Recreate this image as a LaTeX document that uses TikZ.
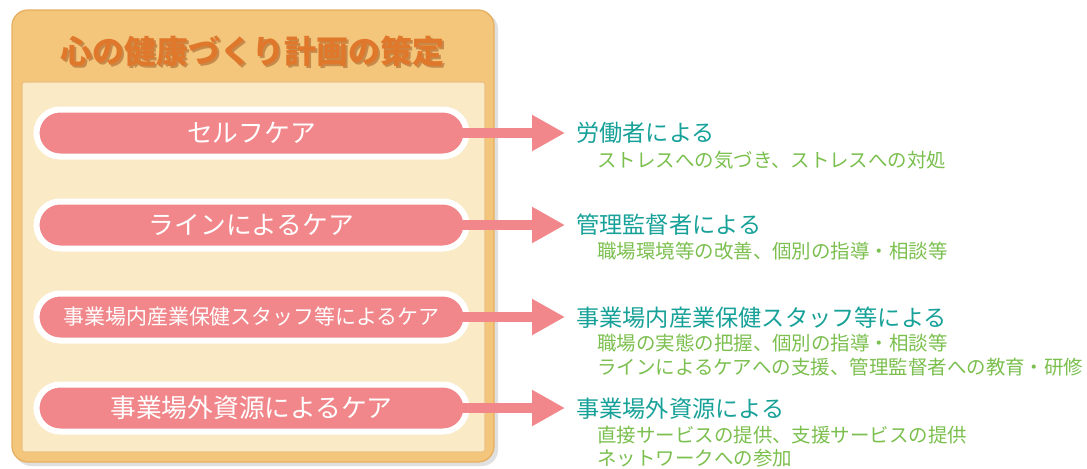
\documentclass[tikz,border=0pt]{standalone}
\usepackage{fontspec}
\setmainfont{Noto Sans CJK JP}
\usetikzlibrary{arrows.meta,shapes.misc}
\definecolor{pinkc}{HTML}{F1878B}
\definecolor{panelc}{HTML}{F3C67C}
\definecolor{panelb}{HTML}{E6B060}
\definecolor{creamc}{HTML}{FAEAC6}
\definecolor{titlec}{HTML}{E0782C}
\definecolor{titles}{HTML}{A8622A}
\definecolor{headc}{HTML}{17A198}
\definecolor{subc}{HTML}{7BBF4E}
\begin{document}
\begin{tikzpicture}[x=0.75pt,y=-0.75pt,
  pill/.style={rounded rectangle, fill=pinkc, draw=white, line width=4.5pt,
    minimum width=322.5pt, minimum height=35.25pt, inner sep=0pt,
    text=white, font=\fontsize{19.3}{22}\selectfont},
  head/.style={anchor=west, inner sep=0pt, text=headc, font=\fontsize{17.4}{20}\selectfont},
  sub/.style={anchor=west, inner sep=0pt, text=subc, font=\fontsize{14.6}{17}\selectfont},
  arr/.style={draw=pinkc, line width=7.5pt,
    -{Triangle[length=24.75pt,width=25.5pt]}, shorten <=-5.25pt, shorten >=8.25pt}
]
\useasboundingbox (0,0) rectangle (1087,468);
% panel
\fill[black, opacity=0.12, rounded corners=12pt] (15,13) rectangle (498,466);
\fill[panelc, draw=panelb, line width=1pt, rounded corners=12pt] (12,10) rectangle (494,462);
\fill[creamc, draw=panelb!80!white, line width=0.8pt, rounded corners=2pt] (22,82) rectangle (485,452);
% title
\node[text=titles, opacity=0.6, font=\fontsize{24}{28}\selectfont\bfseries] at (254,53) {心の健康づくり計画の策定};
\node (title) [text=titlec, font=\fontsize{24}{28}\selectfont\bfseries] at (252,51) {心の健康づくり計画の策定};
% pills
\node (p1) [pill] at (251.5,133) {セルフケア};
\node (p2) [pill] at (251.5,225) {ラインによるケア};
\node (p3) [pill, font=\fontsize{15.7}{18}\selectfont] at (251.5,317) {事業場内産業保健スタッフ等によるケア};
\node (p4) [pill] at (251.5,408) {事業場外資源によるケア};
% headings
\node (h1) [head] at (576,133) {労働者による};
\node (h2) [head] at (576,225) {管理監督者による};
\node (h3) [head] at (576,318) {事業場内産業保健スタッフ等による};
\node (h4) [head] at (576,409) {事業場外資源による};
% sub texts
\node (s1) [sub] at (597,160) {ストレスへの気づき、ストレスへの対処};
\node (s2) [sub] at (597,251) {職場環境等の改善、個別の指導・相談等};
\node (s3a) [sub] at (597,343) {職場の実態の把握、個別の指導・相談等};
\node (s3b) [sub] at (597,367) {ラインによるケアへの支援、管理監督者への教育・研修};
\node (s4a) [sub] at (597,435) {直接サービスの提供、支援サービスの提供};
\node (s4b) [sub] at (597,458) {ネットワークへの参加};
% arrows
\draw[arr] (p1.east) -- (p1.east -| h1.west);
\draw[arr] (p2.east) -- (p2.east -| h2.west);
\draw[arr] (p3.east) -- (p3.east -| h3.west);
\draw[arr] (p4.east) -- (p4.east -| h4.west);
\end{tikzpicture}
\end{document}
